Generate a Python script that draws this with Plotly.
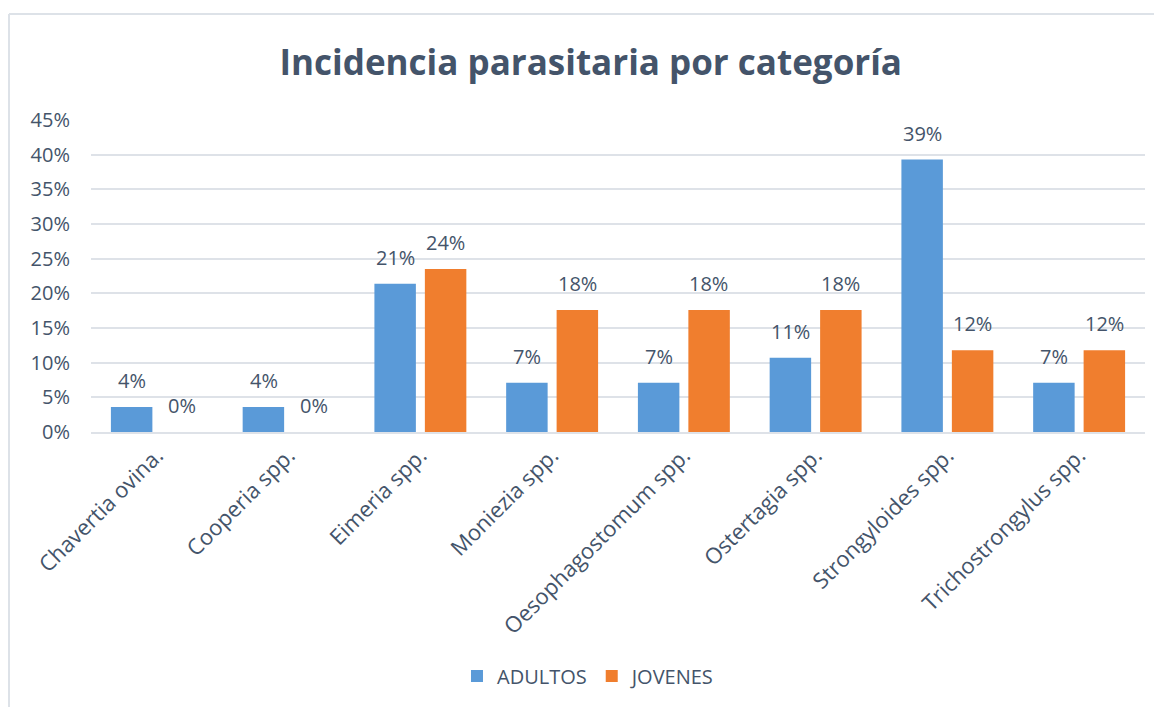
import plotly.graph_objects as go

categorias = ["Chavertia ovina.", "Cooperia spp.", "Eimeria spp.", "Moniezia spp.",
              "Oesophagostomum spp.", "Ostertagia spp.", "Strongyloides spp.",
              "Trichostrongylus spp."]
adultos = [0.036, 0.036, 0.214, 0.071, 0.071, 0.107, 0.393, 0.071]
jovenes = [0.0, 0.0, 0.235, 0.176, 0.176, 0.176, 0.118, 0.118]
ticks_y = [0, 0.05, 0.10, 0.15, 0.20, 0.25, 0.30, 0.35, 0.40, 0.45]

TXT = "#44546A"
GRID = "#DEE2E8"
FONT = "Open Sans"

fig = go.Figure()
fig.add_trace(go.Bar(name="ADULTOS", x=categorias, y=adultos,
                     marker=dict(color="#5A9AD8", line=dict(width=0))))
fig.add_trace(go.Bar(name="JOVENES", x=categorias, y=jovenes,
                     marker=dict(color="#F07E2E", line=dict(width=0))))

# etiquetas de datos encima de cada barra
anotaciones = []
for serie, desp in ((adultos, -25), (jovenes, 25)):
    for cat, val in zip(categorias, serie):
        anotaciones.append(dict(x=cat, y=val, xref="x", yref="y", text=f"{val:.0%}",
                                showarrow=False, xshift=desp, yshift=11, yanchor="bottom",
                                font=dict(size=20, color=TXT, family=FONT)))

fig.update_layout(
    width=1154, height=699,
    margin=dict(l=83, r=17, t=112, b=275),
    paper_bgcolor="white", plot_bgcolor="white",
    font=dict(family=FONT, color=TXT),
    title=dict(text="<b>Incidencia parasitaria por categoría</b>",
               font=dict(size=35, color=TXT, family=FONT),
               xref="container", x=0.505, xanchor="center",
               yref="container", y=0.921, yanchor="middle"),
    barmode="group", bargap=0.234, bargroupgap=0.178,
    legend=dict(orientation="h", x=0.472, xanchor="center", y=-0.782, yanchor="middle",
                font=dict(size=20, color=TXT, family=FONT), itemwidth=30,
                traceorder="normal"),
    annotations=anotaciones,
    shapes=[
        dict(type="line", xref="paper", yref="paper", x0=-0.0778, x1=1.05, y0=1.340, y1=1.340,
             line=dict(color="#DDE2E8", width=2)),
        dict(type="line", xref="paper", yref="paper", x0=-0.0778, x1=-0.0778, y0=1.340, y1=-0.95,
             line=dict(color="#DDE2E8", width=2)),
    ],
)
fig.update_xaxes(tickangle=-45, tickfont=dict(size=22, color=TXT, family=FONT),
                 showline=True, linecolor=GRID, linewidth=2, ticks="", showgrid=False)
fig.update_yaxes(range=[0, 0.45], tickvals=ticks_y, tickformat=".0%",
                 tickfont=dict(size=20, color=TXT, family=FONT),
                 showgrid=True, gridcolor=GRID, gridwidth=2, zeroline=False,
                 ticks="", ticklabelstandoff=20)

fig.write_html("out.html")
